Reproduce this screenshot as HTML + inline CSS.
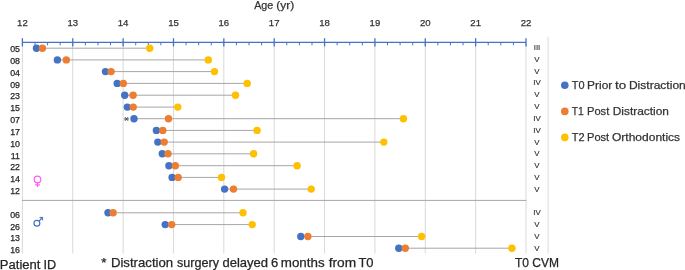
<!DOCTYPE html><html><head><meta charset="utf-8"><style>html,body{margin:0;padding:0;background:#fff;width:685px;height:270px;overflow:hidden}svg{display:block;will-change:transform}text{font-family:"Liberation Sans",sans-serif;stroke:currentColor;stroke-width:0.25px}</style></head><body>
<svg width="685" height="270" viewBox="0 0 685 270">
<line x1="22.40" y1="42" x2="22.40" y2="253.5" stroke="#D9D9D9" stroke-width="1"/>
<line x1="72.76" y1="42" x2="72.76" y2="253.5" stroke="#D9D9D9" stroke-width="1"/>
<line x1="123.12" y1="42" x2="123.12" y2="253.5" stroke="#D9D9D9" stroke-width="1"/>
<line x1="173.48" y1="42" x2="173.48" y2="253.5" stroke="#D9D9D9" stroke-width="1"/>
<line x1="223.84" y1="42" x2="223.84" y2="253.5" stroke="#D9D9D9" stroke-width="1"/>
<line x1="274.20" y1="42" x2="274.20" y2="253.5" stroke="#D9D9D9" stroke-width="1"/>
<line x1="324.56" y1="42" x2="324.56" y2="253.5" stroke="#D9D9D9" stroke-width="1"/>
<line x1="374.92" y1="42" x2="374.92" y2="253.5" stroke="#D9D9D9" stroke-width="1"/>
<line x1="425.28" y1="42" x2="425.28" y2="253.5" stroke="#D9D9D9" stroke-width="1"/>
<line x1="475.64" y1="42" x2="475.64" y2="253.5" stroke="#D9D9D9" stroke-width="1"/>
<line x1="526.00" y1="42" x2="526.00" y2="253.5" stroke="#D9D9D9" stroke-width="1"/>
<line x1="548.1" y1="36.7" x2="548.1" y2="253.5" stroke="#D9D9D9" stroke-width="1"/>
<line x1="22" y1="200.4" x2="526.4" y2="200.4" stroke="#A6A6A6" stroke-width="1"/>
<line x1="22.40" y1="42.4" x2="526.00" y2="42.4" stroke="#4472C4" stroke-width="1.2"/>
<line x1="22.40" y1="38.2" x2="22.40" y2="46.4" stroke="#4472C4" stroke-width="1.3"/>
<line x1="34.99" y1="42.4" x2="34.99" y2="45.3" stroke="#4472C4" stroke-width="1"/>
<line x1="47.58" y1="42.4" x2="47.58" y2="45.3" stroke="#4472C4" stroke-width="1"/>
<line x1="60.17" y1="42.4" x2="60.17" y2="45.3" stroke="#4472C4" stroke-width="1"/>
<line x1="72.76" y1="38.2" x2="72.76" y2="46.4" stroke="#4472C4" stroke-width="1.3"/>
<line x1="85.35" y1="42.4" x2="85.35" y2="45.3" stroke="#4472C4" stroke-width="1"/>
<line x1="97.94" y1="42.4" x2="97.94" y2="45.3" stroke="#4472C4" stroke-width="1"/>
<line x1="110.53" y1="42.4" x2="110.53" y2="45.3" stroke="#4472C4" stroke-width="1"/>
<line x1="123.12" y1="38.2" x2="123.12" y2="46.4" stroke="#4472C4" stroke-width="1.3"/>
<line x1="135.71" y1="42.4" x2="135.71" y2="45.3" stroke="#4472C4" stroke-width="1"/>
<line x1="148.30" y1="42.4" x2="148.30" y2="45.3" stroke="#4472C4" stroke-width="1"/>
<line x1="160.89" y1="42.4" x2="160.89" y2="45.3" stroke="#4472C4" stroke-width="1"/>
<line x1="173.48" y1="38.2" x2="173.48" y2="46.4" stroke="#4472C4" stroke-width="1.3"/>
<line x1="186.07" y1="42.4" x2="186.07" y2="45.3" stroke="#4472C4" stroke-width="1"/>
<line x1="198.66" y1="42.4" x2="198.66" y2="45.3" stroke="#4472C4" stroke-width="1"/>
<line x1="211.25" y1="42.4" x2="211.25" y2="45.3" stroke="#4472C4" stroke-width="1"/>
<line x1="223.84" y1="38.2" x2="223.84" y2="46.4" stroke="#4472C4" stroke-width="1.3"/>
<line x1="236.43" y1="42.4" x2="236.43" y2="45.3" stroke="#4472C4" stroke-width="1"/>
<line x1="249.02" y1="42.4" x2="249.02" y2="45.3" stroke="#4472C4" stroke-width="1"/>
<line x1="261.61" y1="42.4" x2="261.61" y2="45.3" stroke="#4472C4" stroke-width="1"/>
<line x1="274.20" y1="38.2" x2="274.20" y2="46.4" stroke="#4472C4" stroke-width="1.3"/>
<line x1="286.79" y1="42.4" x2="286.79" y2="45.3" stroke="#4472C4" stroke-width="1"/>
<line x1="299.38" y1="42.4" x2="299.38" y2="45.3" stroke="#4472C4" stroke-width="1"/>
<line x1="311.97" y1="42.4" x2="311.97" y2="45.3" stroke="#4472C4" stroke-width="1"/>
<line x1="324.56" y1="38.2" x2="324.56" y2="46.4" stroke="#4472C4" stroke-width="1.3"/>
<line x1="337.15" y1="42.4" x2="337.15" y2="45.3" stroke="#4472C4" stroke-width="1"/>
<line x1="349.74" y1="42.4" x2="349.74" y2="45.3" stroke="#4472C4" stroke-width="1"/>
<line x1="362.33" y1="42.4" x2="362.33" y2="45.3" stroke="#4472C4" stroke-width="1"/>
<line x1="374.92" y1="38.2" x2="374.92" y2="46.4" stroke="#4472C4" stroke-width="1.3"/>
<line x1="387.51" y1="42.4" x2="387.51" y2="45.3" stroke="#4472C4" stroke-width="1"/>
<line x1="400.10" y1="42.4" x2="400.10" y2="45.3" stroke="#4472C4" stroke-width="1"/>
<line x1="412.69" y1="42.4" x2="412.69" y2="45.3" stroke="#4472C4" stroke-width="1"/>
<line x1="425.28" y1="38.2" x2="425.28" y2="46.4" stroke="#4472C4" stroke-width="1.3"/>
<line x1="437.87" y1="42.4" x2="437.87" y2="45.3" stroke="#4472C4" stroke-width="1"/>
<line x1="450.46" y1="42.4" x2="450.46" y2="45.3" stroke="#4472C4" stroke-width="1"/>
<line x1="463.05" y1="42.4" x2="463.05" y2="45.3" stroke="#4472C4" stroke-width="1"/>
<line x1="475.64" y1="38.2" x2="475.64" y2="46.4" stroke="#4472C4" stroke-width="1.3"/>
<line x1="488.23" y1="42.4" x2="488.23" y2="45.3" stroke="#4472C4" stroke-width="1"/>
<line x1="500.82" y1="42.4" x2="500.82" y2="45.3" stroke="#4472C4" stroke-width="1"/>
<line x1="513.41" y1="42.4" x2="513.41" y2="45.3" stroke="#4472C4" stroke-width="1"/>
<line x1="526.00" y1="38.2" x2="526.00" y2="46.4" stroke="#4472C4" stroke-width="1.3"/>
<text x="22.40" y="26.3" font-size="9.6" fill="#333333" color="#333333" text-anchor="middle">12</text>
<text x="72.76" y="26.3" font-size="9.6" fill="#333333" color="#333333" text-anchor="middle">13</text>
<text x="123.12" y="26.3" font-size="9.6" fill="#333333" color="#333333" text-anchor="middle">14</text>
<text x="173.48" y="26.3" font-size="9.6" fill="#333333" color="#333333" text-anchor="middle">15</text>
<text x="223.84" y="26.3" font-size="9.6" fill="#333333" color="#333333" text-anchor="middle">16</text>
<text x="274.20" y="26.3" font-size="9.6" fill="#333333" color="#333333" text-anchor="middle">17</text>
<text x="324.56" y="26.3" font-size="9.6" fill="#333333" color="#333333" text-anchor="middle">18</text>
<text x="374.92" y="26.3" font-size="9.6" fill="#333333" color="#333333" text-anchor="middle">19</text>
<text x="425.28" y="26.3" font-size="9.6" fill="#333333" color="#333333" text-anchor="middle">20</text>
<text x="475.64" y="26.3" font-size="9.6" fill="#333333" color="#333333" text-anchor="middle">21</text>
<text x="526.00" y="26.3" font-size="9.6" fill="#333333" color="#333333" text-anchor="middle">22</text>
<line x1="36.50" y1="48.20" x2="149.70" y2="48.20" stroke="#A6A6A6" stroke-width="1"/>
<circle cx="149.70" cy="48.20" r="3.7" fill="#FFC000"/>
<circle cx="36.50" cy="48.20" r="3.7" fill="#4472C4"/>
<circle cx="42.40" cy="48.20" r="3.7" fill="#ED7D31"/>
<text x="20" y="52.05" font-size="8.8" fill="#262626" color="#262626" text-anchor="end">05</text>
<text x="537" y="50.00" font-size="7.9" fill="#262626" color="#262626" style="stroke-width:0.1px" text-anchor="middle">III</text>
<line x1="57.40" y1="59.90" x2="208.30" y2="59.90" stroke="#A6A6A6" stroke-width="1"/>
<circle cx="208.30" cy="59.90" r="3.7" fill="#FFC000"/>
<circle cx="57.40" cy="59.90" r="3.7" fill="#4472C4"/>
<circle cx="66.30" cy="59.90" r="3.7" fill="#ED7D31"/>
<text x="20" y="63.88" font-size="8.8" fill="#262626" color="#262626" text-anchor="end">08</text>
<text x="537" y="61.82" font-size="7.9" fill="#262626" color="#262626" style="stroke-width:0.1px" text-anchor="middle">V</text>
<line x1="105.50" y1="71.60" x2="214.50" y2="71.60" stroke="#A6A6A6" stroke-width="1"/>
<circle cx="214.50" cy="71.60" r="3.7" fill="#FFC000"/>
<circle cx="105.50" cy="71.60" r="3.7" fill="#4472C4"/>
<circle cx="111.10" cy="71.60" r="3.7" fill="#ED7D31"/>
<text x="20" y="75.71" font-size="8.8" fill="#262626" color="#262626" text-anchor="end">04</text>
<text x="537" y="73.64" font-size="7.9" fill="#262626" color="#262626" style="stroke-width:0.1px" text-anchor="middle">V</text>
<line x1="117.20" y1="83.40" x2="247.20" y2="83.40" stroke="#A6A6A6" stroke-width="1"/>
<circle cx="247.20" cy="83.40" r="3.7" fill="#FFC000"/>
<circle cx="117.20" cy="83.40" r="3.7" fill="#4472C4"/>
<circle cx="123.30" cy="83.40" r="3.7" fill="#ED7D31"/>
<text x="20" y="87.54" font-size="8.8" fill="#262626" color="#262626" text-anchor="end">09</text>
<text x="537" y="85.46" font-size="7.9" fill="#262626" color="#262626" style="stroke-width:0.1px" text-anchor="middle">IV</text>
<line x1="124.70" y1="95.20" x2="235.50" y2="95.20" stroke="#A6A6A6" stroke-width="1"/>
<circle cx="235.50" cy="95.20" r="3.7" fill="#FFC000"/>
<circle cx="124.70" cy="95.20" r="3.7" fill="#4472C4"/>
<circle cx="133.10" cy="95.20" r="3.7" fill="#ED7D31"/>
<text x="20" y="99.37" font-size="8.8" fill="#262626" color="#262626" text-anchor="end">23</text>
<text x="537" y="97.28" font-size="7.9" fill="#262626" color="#262626" style="stroke-width:0.1px" text-anchor="middle">V</text>
<line x1="127.30" y1="107.10" x2="177.80" y2="107.10" stroke="#A6A6A6" stroke-width="1"/>
<circle cx="177.80" cy="107.10" r="3.7" fill="#FFC000"/>
<circle cx="127.30" cy="107.10" r="3.7" fill="#4472C4"/>
<circle cx="133.20" cy="107.10" r="3.7" fill="#ED7D31"/>
<text x="20" y="111.20" font-size="8.8" fill="#262626" color="#262626" text-anchor="end">15</text>
<text x="537" y="109.10" font-size="7.9" fill="#262626" color="#262626" style="stroke-width:0.1px" text-anchor="middle">V</text>
<line x1="134.00" y1="118.70" x2="403.40" y2="118.70" stroke="#A6A6A6" stroke-width="1"/>
<circle cx="403.40" cy="118.70" r="3.7" fill="#FFC000"/>
<circle cx="134.00" cy="118.70" r="3.7" fill="#4472C4"/>
<circle cx="168.50" cy="118.70" r="3.7" fill="#ED7D31"/>
<text x="20" y="123.03" font-size="8.8" fill="#262626" color="#262626" text-anchor="end">07</text>
<text x="537" y="120.92" font-size="7.9" fill="#262626" color="#262626" style="stroke-width:0.1px" text-anchor="middle">IV</text>
<line x1="156.40" y1="130.40" x2="257.10" y2="130.40" stroke="#A6A6A6" stroke-width="1"/>
<circle cx="257.10" cy="130.40" r="3.7" fill="#FFC000"/>
<circle cx="156.40" cy="130.40" r="3.7" fill="#4472C4"/>
<circle cx="162.80" cy="130.40" r="3.7" fill="#ED7D31"/>
<text x="20" y="134.86" font-size="8.8" fill="#262626" color="#262626" text-anchor="end">17</text>
<text x="537" y="132.74" font-size="7.9" fill="#262626" color="#262626" style="stroke-width:0.1px" text-anchor="middle">IV</text>
<line x1="157.80" y1="142.10" x2="383.80" y2="142.10" stroke="#A6A6A6" stroke-width="1"/>
<circle cx="383.80" cy="142.10" r="3.7" fill="#FFC000"/>
<circle cx="157.80" cy="142.10" r="3.7" fill="#4472C4"/>
<circle cx="164.20" cy="142.10" r="3.7" fill="#ED7D31"/>
<text x="20" y="146.69" font-size="8.8" fill="#262626" color="#262626" text-anchor="end">10</text>
<text x="537" y="144.56" font-size="7.9" fill="#262626" color="#262626" style="stroke-width:0.1px" text-anchor="middle">V</text>
<line x1="162.30" y1="153.80" x2="253.60" y2="153.80" stroke="#A6A6A6" stroke-width="1"/>
<circle cx="253.60" cy="153.80" r="3.7" fill="#FFC000"/>
<circle cx="162.30" cy="153.80" r="3.7" fill="#4472C4"/>
<circle cx="168.00" cy="153.80" r="3.7" fill="#ED7D31"/>
<text x="20" y="158.52" font-size="8.8" fill="#262626" color="#262626" text-anchor="end">11</text>
<text x="537" y="156.38" font-size="7.9" fill="#262626" color="#262626" style="stroke-width:0.1px" text-anchor="middle">V</text>
<line x1="168.90" y1="165.70" x2="297.10" y2="165.70" stroke="#A6A6A6" stroke-width="1"/>
<circle cx="297.10" cy="165.70" r="3.7" fill="#FFC000"/>
<circle cx="168.90" cy="165.70" r="3.7" fill="#4472C4"/>
<circle cx="175.30" cy="165.70" r="3.7" fill="#ED7D31"/>
<text x="20" y="170.35" font-size="8.8" fill="#262626" color="#262626" text-anchor="end">22</text>
<text x="537" y="168.20" font-size="7.9" fill="#262626" color="#262626" style="stroke-width:0.1px" text-anchor="middle">V</text>
<line x1="172.10" y1="177.40" x2="221.50" y2="177.40" stroke="#A6A6A6" stroke-width="1"/>
<circle cx="221.50" cy="177.40" r="3.7" fill="#FFC000"/>
<circle cx="172.10" cy="177.40" r="3.7" fill="#4472C4"/>
<circle cx="178.20" cy="177.40" r="3.7" fill="#ED7D31"/>
<text x="20" y="182.18" font-size="8.8" fill="#262626" color="#262626" text-anchor="end">14</text>
<text x="537" y="180.02" font-size="7.9" fill="#262626" color="#262626" style="stroke-width:0.1px" text-anchor="middle">V</text>
<line x1="224.60" y1="189.10" x2="311.20" y2="189.10" stroke="#A6A6A6" stroke-width="1"/>
<circle cx="311.20" cy="189.10" r="3.7" fill="#FFC000"/>
<circle cx="224.60" cy="189.10" r="3.7" fill="#4472C4"/>
<circle cx="233.50" cy="189.10" r="3.7" fill="#ED7D31"/>
<text x="20" y="194.01" font-size="8.8" fill="#262626" color="#262626" text-anchor="end">12</text>
<text x="537" y="191.84" font-size="7.9" fill="#262626" color="#262626" style="stroke-width:0.1px" text-anchor="middle">V</text>
<line x1="108.00" y1="212.80" x2="243.00" y2="212.80" stroke="#A6A6A6" stroke-width="1"/>
<circle cx="243.00" cy="212.80" r="3.7" fill="#FFC000"/>
<circle cx="108.00" cy="212.80" r="3.7" fill="#4472C4"/>
<circle cx="113.10" cy="212.80" r="3.7" fill="#ED7D31"/>
<text x="20" y="217.67" font-size="8.8" fill="#262626" color="#262626" text-anchor="end">06</text>
<text x="537" y="215.48" font-size="7.9" fill="#262626" color="#262626" style="stroke-width:0.1px" text-anchor="middle">IV</text>
<line x1="165.20" y1="224.60" x2="252.20" y2="224.60" stroke="#A6A6A6" stroke-width="1"/>
<circle cx="252.20" cy="224.60" r="3.7" fill="#FFC000"/>
<circle cx="165.20" cy="224.60" r="3.7" fill="#4472C4"/>
<circle cx="171.70" cy="224.60" r="3.7" fill="#ED7D31"/>
<text x="20" y="229.50" font-size="8.8" fill="#262626" color="#262626" text-anchor="end">26</text>
<text x="537" y="227.30" font-size="7.9" fill="#262626" color="#262626" style="stroke-width:0.1px" text-anchor="middle">V</text>
<line x1="300.80" y1="236.50" x2="421.60" y2="236.50" stroke="#A6A6A6" stroke-width="1"/>
<circle cx="421.60" cy="236.50" r="3.7" fill="#FFC000"/>
<circle cx="300.80" cy="236.50" r="3.7" fill="#4472C4"/>
<circle cx="307.90" cy="236.50" r="3.7" fill="#ED7D31"/>
<text x="20" y="241.33" font-size="8.8" fill="#262626" color="#262626" text-anchor="end">13</text>
<text x="537" y="239.12" font-size="7.9" fill="#262626" color="#262626" style="stroke-width:0.1px" text-anchor="middle">V</text>
<line x1="398.80" y1="248.20" x2="511.90" y2="248.20" stroke="#A6A6A6" stroke-width="1"/>
<circle cx="511.90" cy="248.20" r="3.7" fill="#FFC000"/>
<circle cx="398.80" cy="248.20" r="3.7" fill="#4472C4"/>
<circle cx="405.30" cy="248.20" r="3.7" fill="#ED7D31"/>
<text x="20" y="253.16" font-size="8.8" fill="#262626" color="#262626" text-anchor="end">16</text>
<text x="537" y="250.94" font-size="7.9" fill="#262626" color="#262626" style="stroke-width:0.1px" text-anchor="middle">V</text>
<g stroke="#404040" stroke-width="0.9" fill="none"><line x1="124.1" y1="119" x2="128.9" y2="119"/><line x1="124.9" y1="117.1" x2="128.1" y2="120.9"/><line x1="124.9" y1="120.9" x2="128.1" y2="117.1"/></g>
<g stroke="#FF5CFF" stroke-width="1.2" fill="none"><circle cx="37.5" cy="179.5" r="3.3"/><line x1="37.5" y1="182.6" x2="37.5" y2="187"/><line x1="35" y1="184.9" x2="40" y2="184.9"/></g>
<g stroke="#4472C4" stroke-width="1.2" fill="none"><circle cx="36.9" cy="223.2" r="2.9"/><line x1="39" y1="221.1" x2="42.4" y2="217.5"/><polyline stroke-width="1" points="39.6,217.4 42.6,217.4 42.6,220.4"/></g>
<circle cx="564.8" cy="85.3" r="3.8" fill="#4472C4"/>
<text x="571.75" y="88.9" font-size="11.6" textLength="12.77" lengthAdjust="spacingAndGlyphs" fill="#333333" color="#333333">T0</text>
<text x="587.13" y="88.9" font-size="11.6" textLength="25.07" lengthAdjust="spacingAndGlyphs" fill="#333333" color="#333333">Prior</text>
<text x="615.1" y="88.9" font-size="11.6" textLength="11.16" lengthAdjust="spacingAndGlyphs" fill="#333333" color="#333333">to</text>
<text x="628.91" y="88.9" font-size="11.6" textLength="56.87" lengthAdjust="spacingAndGlyphs" fill="#333333" color="#333333">Distraction</text>
<circle cx="564.8" cy="111.4" r="3.8" fill="#ED7D31"/>
<text x="571.77" y="115.0" font-size="11.6" textLength="12.14" lengthAdjust="spacingAndGlyphs" fill="#333333" color="#333333">T1</text>
<text x="586.99" y="115.0" font-size="11.6" textLength="22.3" lengthAdjust="spacingAndGlyphs" fill="#333333" color="#333333">Post</text>
<text x="612.77" y="115.0" font-size="11.6" textLength="56.2" lengthAdjust="spacingAndGlyphs" fill="#333333" color="#333333">Distraction</text>
<circle cx="564.8" cy="137.4" r="3.8" fill="#FFC000"/>
<text x="571.75" y="141.0" font-size="11.6" textLength="12.8" lengthAdjust="spacingAndGlyphs" fill="#333333" color="#333333">T2</text>
<text x="586.99" y="141.0" font-size="11.6" textLength="22.19" lengthAdjust="spacingAndGlyphs" fill="#333333" color="#333333">Post</text>
<text x="612.03" y="141.0" font-size="11.6" textLength="68.1" lengthAdjust="spacingAndGlyphs" fill="#333333" color="#333333">Orthodontics</text>
<text x="-0.17" y="268.7" font-size="12.5" textLength="40.56" lengthAdjust="spacingAndGlyphs" fill="#262626" color="#262626">Patient</text>
<text x="43.53" y="268.7" font-size="12.5" textLength="12.68" lengthAdjust="spacingAndGlyphs" fill="#262626" color="#262626">ID</text>
<text x="101.28" y="266.6" font-size="12.6" textLength="5.23" lengthAdjust="spacingAndGlyphs" fill="#262626" color="#262626">*</text>
<text x="110.92" y="266.6" font-size="12.6" textLength="62.24" lengthAdjust="spacingAndGlyphs" fill="#262626" color="#262626">Distraction</text>
<text x="176.95" y="266.6" font-size="12.6" textLength="42.08" lengthAdjust="spacingAndGlyphs" fill="#262626" color="#262626">surgery</text>
<text x="222.45" y="266.6" font-size="12.6" textLength="45.69" lengthAdjust="spacingAndGlyphs" fill="#262626" color="#262626">delayed</text>
<text x="270.94" y="266.6" font-size="12.6" textLength="7.23" lengthAdjust="spacingAndGlyphs" fill="#262626" color="#262626">6</text>
<text x="280.81" y="266.6" font-size="12.6" textLength="43.77" lengthAdjust="spacingAndGlyphs" fill="#262626" color="#262626">months</text>
<text x="328.71" y="266.6" font-size="12.6" textLength="27.4" lengthAdjust="spacingAndGlyphs" fill="#262626" color="#262626">from</text>
<text x="358.41" y="266.6" font-size="12.6" textLength="15.1" lengthAdjust="spacingAndGlyphs" fill="#262626" color="#262626">T0</text>
<text x="515" y="266.6" font-size="12" fill="#262626" color="#262626">T0 CVM</text>
<text x="254.18" y="8.9" font-size="11" textLength="19.1" lengthAdjust="spacingAndGlyphs" fill="#333333" color="#333333">Age</text>
<text x="276.26" y="8.9" font-size="11" textLength="17.88" lengthAdjust="spacingAndGlyphs" fill="#333333" color="#333333">(yr)</text>
</svg></body></html>
